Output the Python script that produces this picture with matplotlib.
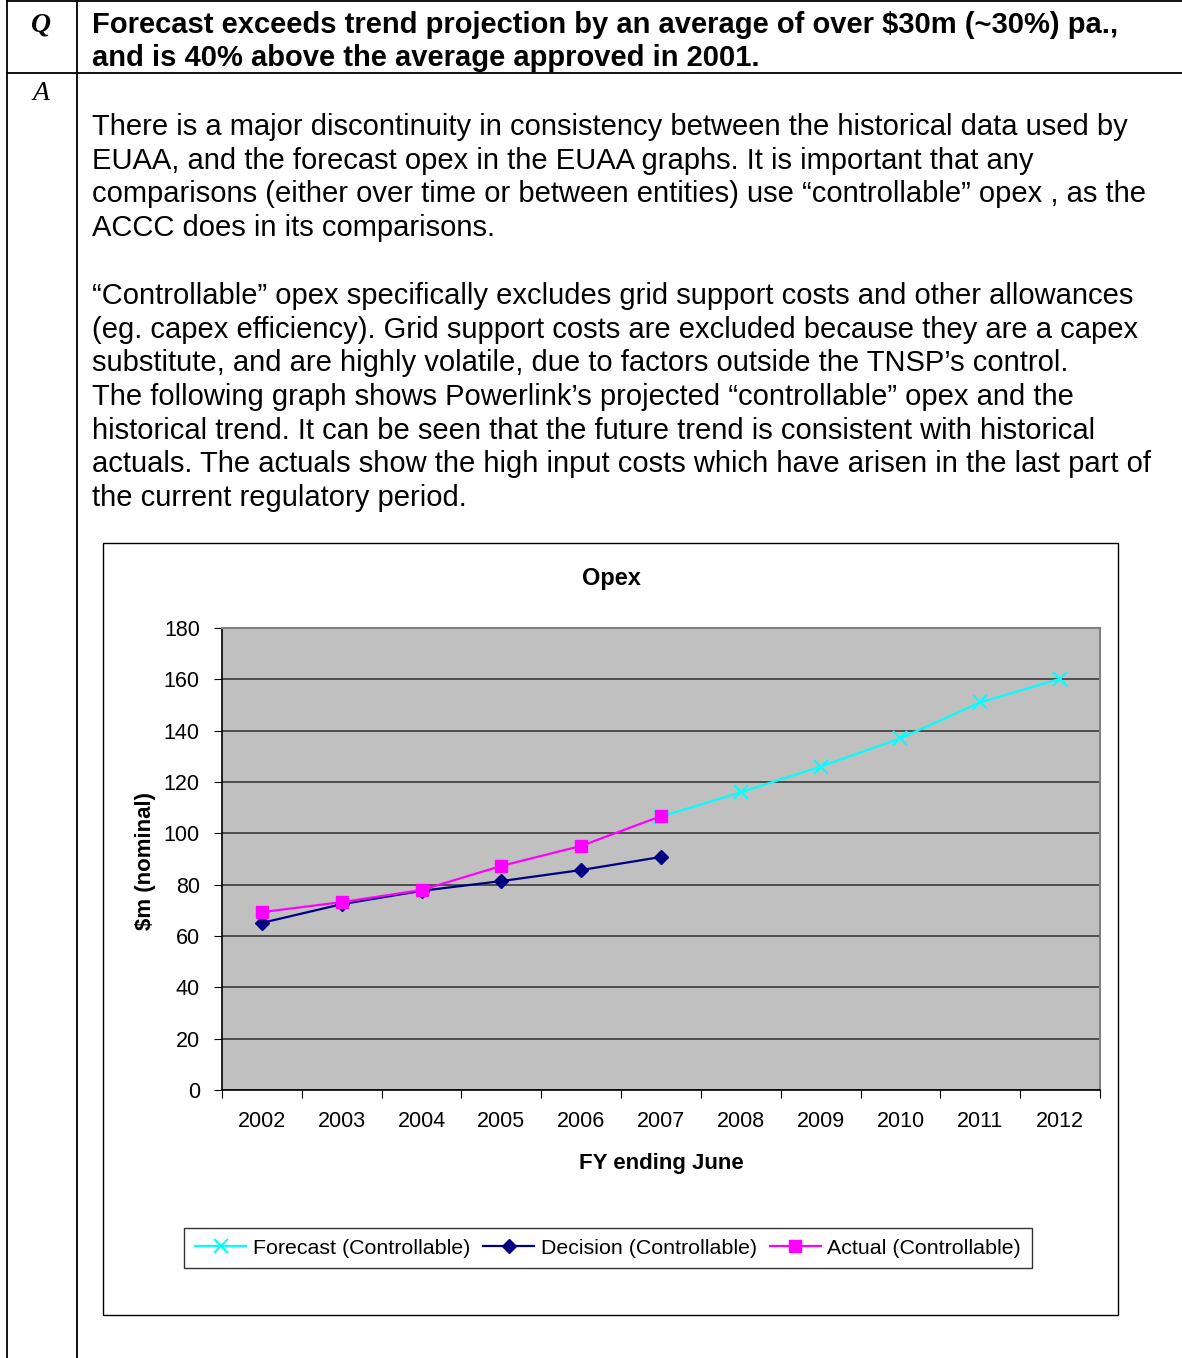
import matplotlib
matplotlib.use("Agg")
import matplotlib.pyplot as plt
from matplotlib.lines import Line2D
from matplotlib.patches import Rectangle

# data
years = ["2002", "2003", "2004", "2005", "2006", "2007",
         "2008", "2009", "2010", "2011", "2012"]
forecast = [None, None, None, None, None, 106.5, 116.0, 126.0, 137.0, 151.0, 160.2]
decision = [65.1, 72.4, 77.6, 81.4, 85.7, 90.8]
actual = [69.3, 73.2, 77.9, 87.3, 95.1, 106.7]

heading = ["Forecast exceeds trend projection by an average of over $30m (~30%) pa.,",
           "and is 40% above the average approved in 2001."]
para1 = ["There is a major discontinuity in consistency between the historical data used by",
         "EUAA, and the forecast opex in the EUAA graphs. It is important that any",
         "comparisons (either over time or between entities) use \u201ccontrollable\u201d opex , as the",
         "ACCC does in its comparisons."]
para2 = ["\u201cControllable\u201d opex specifically excludes grid support costs and other allowances",
         "(eg. capex efficiency). Grid support costs are excluded because they are a capex",
         "substitute, and are highly volatile, due to factors outside the TNSP\u2019s control.",
         "The following graph shows Powerlink\u2019s projected \u201ccontrollable\u201d opex and the",
         "historical trend. It can be seen that the future trend is consistent with historical",
         "actuals. The actuals show the high input costs which have arisen in the last part of",
         "the current regulatory period."]

W, H = 1182, 1358
plt.rcParams['font.family'] = ['Liberation Sans', 'DejaVu Sans']

fig = plt.figure(figsize=(W / 100, H / 100), dpi=100)


def fx(px):
    return px / W


def fy(py):
    return 1 - py / H


# table rules
for x0, y0, x1, y1 in [(7, 1, W, 1), (7, 73, W, 73), (7, 0, 7, H), (77, 0, 77, H)]:
    fig.add_artist(Line2D([fx(x0), fx(x1)], [fy(y0), fy(y1)], color="black", lw=1.3))

fig.text(fx(41), fy(25), "Q", family="Liberation Serif", style="italic", weight="bold",
         fontsize=20, ha="center", va="center")
fig.text(fx(41), fy(94), "A", family="Liberation Serif", style="italic",
         fontsize=20, ha="center", va="center")

for i, line in enumerate(heading):
    fig.text(fx(92), fy(25 + i * 33.5), line, weight="bold", fontsize=21, va="center")
for i, line in enumerate(para1):
    fig.text(fx(92), fy(127 + i * 33.7), line, fontsize=21, va="center")
for i, line in enumerate(para2):
    fig.text(fx(92), fy(296 + i * 33.7), line, fontsize=21, va="center")

# chart frame
fig.add_artist(Rectangle((fx(103), fy(1315)), fx(1118 - 103), (1315 - 543) / H,
                         fill=False, edgecolor="black", lw=1))

ax = fig.add_axes([fx(222), fy(1090), fx(1100 - 222), (1090 - 628) / H])
ax.set_facecolor("#C0C0C0")
x = list(range(len(years)))

ax.plot(x, forecast, color="#00FFFF", lw=1.6, marker="x", ms=10, mew=1.5,
        label="Forecast (Controllable)")
ax.plot(x[:len(decision)], decision, color="#000080", lw=1.6, marker="D", ms=7.5,
        label="Decision (Controllable)")
ax.plot(x[:len(actual)], actual, color="#FF00FF", lw=1.6, marker="s", ms=9,
        label="Actual (Controllable)")

ax.set_xlim(-0.5, len(years) - 0.5)
ax.set_ylim(0, 180)
ax.set_yticks(range(0, 181, 20))
ax.yaxis.grid(True, color="#3a3a3a", lw=1.2)
ax.set_axisbelow(True)
ax.set_xticks([i - 0.5 for i in range(len(years) + 1)])
ax.set_xticklabels([])
ax.set_xticks(x, minor=True)
ax.set_xticklabels(years, minor=True, fontsize=15.5)
ax.tick_params(axis="x", which="major", length=6, direction="out", color="black")
ax.tick_params(axis="x", which="minor", length=0, pad=15)
ax.tick_params(axis="y", length=6, direction="out", labelsize=15.5, pad=10)

for s in ["left", "bottom"]:
    ax.spines[s].set_color("black")
    ax.spines[s].set_linewidth(1.2)
for s in ["right", "top"]:
    ax.spines[s].set_color("#808080")
    ax.spines[s].set_linewidth(1.5)

fig.text(fx(611), fy(579), "Opex", weight="bold", fontsize=17, ha="center", va="center")
fig.text(fx(145), fy(861), "$m (nominal)", weight="bold", fontsize=16, rotation=90,
         ha="center", va="center")
fig.text(fx(661), fy(1163), "FY ending June", weight="bold", fontsize=16,
         ha="center", va="center")

leg = fig.legend(loc="center", bbox_to_anchor=(fx(608), fy(1248)), ncol=3, fontsize=15.4,
                 frameon=True, fancybox=False, edgecolor="black", handlelength=2.4,
                 handletextpad=0.3, columnspacing=0.6, borderpad=0.5)
leg.get_frame().set_linewidth(1)

fig.savefig("out.png", dpi=100)
